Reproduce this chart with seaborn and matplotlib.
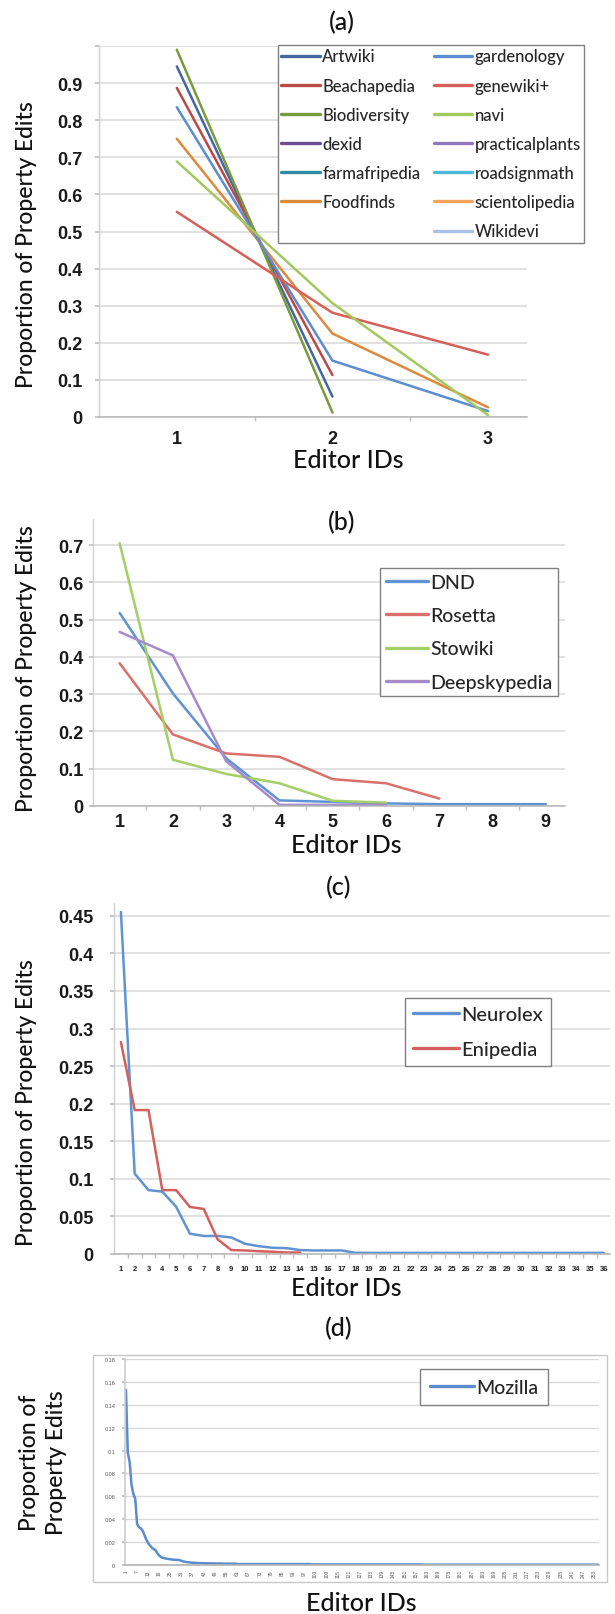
import numpy as np
import pandas as pd
import matplotlib
matplotlib.use("Agg")
import matplotlib.pyplot as plt
from matplotlib.lines import Line2D
from matplotlib.patches import Rectangle
import seaborn as sns

sns.set_theme(style="white")
plt.rcParams["font.family"] = ["Lato", "DejaVu Sans"]

W, H = 615, 1615
TICK_FONT = ["Liberation Sans", "DejaVu Sans"]
GRID = "#D9D9D9"

# ---------------- (a) wikis with at most 3 editors ----------------
artwiki = [0.945, 0.055]
beachapedia = [0.887, 0.113]
biodiversity = [0.99, 0.012]
dexid = [1.0]
farmafripedia = [1.0]
foodfinds = [0.75, 0.225, 0.026]
gardenology = [0.835, 0.152, 0.016]
genewiki = [0.553, 0.281, 0.168]
navi = [0.689, 0.307, 0.005]
practicalplants = [1.0]
roadsignmath = [1.0]
scientolipedia = [1.0]
wikidevi = [1.0]

wikis_a = ["Artwiki", "Beachapedia", "Biodiversity", "dexid", "farmafripedia", "Foodfinds",
           "gardenology", "genewiki+", "navi", "practicalplants", "roadsignmath",
           "scientolipedia", "Wikidevi"]
values_a = [artwiki, beachapedia, biodiversity, dexid, farmafripedia, foodfinds,
            gardenology, genewiki, navi, practicalplants, roadsignmath, scientolipedia, wikidevi]
colors_a = ["#44679f", "#b94a48", "#799a3e", "#6a4f92", "#2f8ba4", "#de8a3c",
            "#5b8dd0", "#d65f5b", "#a2c85e", "#9078c0", "#4cb9d8", "#f5a35c", "#a8c1e4"]

# ---------------- (b) wikis with up to 9 editors ----------------
wikis_b = ["DND", "Rosetta", "Stowiki", "Deepskypedia"]
dnd = [0.518, 0.302, 0.128, 0.015, 0.011, 0.007, 0.005, 0.005, 0.005]
rosetta = [0.383, 0.192, 0.141, 0.132, 0.072, 0.061, 0.02]
stowiki = [0.705, 0.124, 0.086, 0.061, 0.014, 0.009]
deepskypedia = [0.467, 0.404, 0.12, 0.003, 0.003, 0.003]
values_b = [dnd, rosetta, stowiki, deepskypedia]
colors_b = ["#5f93d2", "#d9706c", "#a3cf66", "#a58bca"]

# ---------------- (c) wikis with up to 36 editors ----------------
wikis_c = ["Neurolex", "Enipedia"]
neurolex = [0.455, 0.107, 0.085, 0.083, 0.063, 0.027, 0.024, 0.024, 0.022, 0.0136,
            0.0104, 0.0083, 0.0078, 0.0052, 0.0047, 0.0047, 0.0047, 0.0016, 0.0015, 0.0015,
            0.0015, 0.0015, 0.0015, 0.0015, 0.0015, 0.0015, 0.0015, 0.0015, 0.0015, 0.0015,
            0.0015, 0.0015, 0.0015, 0.0015, 0.0015, 0.0015]
enipedia = [0.282, 0.1915, 0.1915, 0.085, 0.085, 0.0626, 0.060, 0.0198, 0.0052, 0.0047,
            0.0037, 0.003, 0.002, 0.002]
values_c = [neurolex, enipedia]
colors_c = ["#5f93d2", "#d4605e"]

# ---------------- (d) Mozilla, 255 editors ----------------
mozilla = [
    0.153, 0.098, 0.090, 0.070, 0.062, 0.058, 0.036, 0.033, 0.032, 0.030,
    0.026, 0.022, 0.019, 0.017, 0.015, 0.0138, 0.0128, 0.010, 0.0082, 0.0068,
    0.0062, 0.0058, 0.0055, 0.0052, 0.0050, 0.0048, 0.0046, 0.0045, 0.0044, 0.0042,
    0.0036, 0.0030, 0.0027, 0.0025, 0.0023, 0.0021, 0.0020, 0.0019, 0.0018, 0.0017,
    0.0016, 0.0016, 0.0015, 0.0015, 0.0015, 0.0014, 0.0014, 0.0014, 0.0013, 0.0013,
    0.0013, 0.0013, 0.0012, 0.0012, 0.0012, 0.0012, 0.0011, 0.0011, 0.0011, 0.0011,
    0.0008, 0.0008, 0.0008, 0.0008, 0.0008, 0.0008, 0.0008, 0.0008, 0.0008, 0.0008,
    0.0008, 0.0008, 0.0008, 0.0008, 0.0008, 0.0008, 0.0008, 0.0008, 0.0008, 0.0008,
    0.0008, 0.0008, 0.0008, 0.0008, 0.0008, 0.0008, 0.0008, 0.0008, 0.0008, 0.0008,
    0.0008, 0.0008, 0.0008, 0.0008, 0.0008, 0.0008, 0.0008, 0.0008, 0.0008, 0.0008,
    0.0005, 0.0005, 0.0005, 0.0005, 0.0005, 0.0005, 0.0005, 0.0005, 0.0005, 0.0005,
    0.0005, 0.0005, 0.0005, 0.0005, 0.0005, 0.0005, 0.0005, 0.0005, 0.0005, 0.0005,
    0.0005, 0.0005, 0.0005, 0.0005, 0.0005, 0.0005, 0.0005, 0.0005, 0.0005, 0.0005,
    0.0005, 0.0005, 0.0005, 0.0005, 0.0005, 0.0005, 0.0005, 0.0005, 0.0005, 0.0005,
    0.0005, 0.0005, 0.0005, 0.0005, 0.0005, 0.0005, 0.0005, 0.0005, 0.0005, 0.0005,
    0.0005, 0.0005, 0.0005, 0.0005, 0.0005, 0.0005, 0.0005, 0.0005, 0.0005, 0.0005,
    0.0003, 0.0003, 0.0003, 0.0003, 0.0003, 0.0003, 0.0003, 0.0003, 0.0003, 0.0003,
    0.0003, 0.0003, 0.0003, 0.0003, 0.0003, 0.0003, 0.0003, 0.0003, 0.0003, 0.0003,
    0.0003, 0.0003, 0.0003, 0.0003, 0.0003, 0.0003, 0.0003, 0.0003, 0.0003, 0.0003,
    0.0003, 0.0003, 0.0003, 0.0003, 0.0003, 0.0003, 0.0003, 0.0003, 0.0003, 0.0003,
    0.0003, 0.0003, 0.0003, 0.0003, 0.0003, 0.0003, 0.0003, 0.0003, 0.0003, 0.0003,
    0.0003, 0.0003, 0.0003, 0.0003, 0.0003, 0.0003, 0.0003, 0.0003, 0.0003, 0.0003,
    0.0003, 0.0003, 0.0003, 0.0003, 0.0003, 0.0003, 0.0003, 0.0003, 0.0003, 0.0003,
    0.0003, 0.0003, 0.0003, 0.0003, 0.0003, 0.0003, 0.0003, 0.0003, 0.0003, 0.0003,
    0.0003, 0.0003, 0.0003, 0.0003, 0.0003, 0.0003, 0.0003, 0.0003, 0.0003, 0.0003,
    0.0003, 0.0003, 0.0003, 0.0003, 0.0003,
]
mozilla_color = "#5b8ccd"


def to_long(names, values):
    rows = []
    for name, vals in zip(names, values):
        for i, v in enumerate(vals):
            rows.append({"wiki": name, "editor": i + 1, "prop": v})
    return pd.DataFrame(rows)


fig = plt.figure(figsize=(W / 100, H / 100), dpi=100)


def add_ax(l, t, r, b):
    return fig.add_axes([l / W, 1 - b / H, (r - l) / W, (b - t) / H])


def ftext(x, y, s, **kw):
    fig.text(x / W, 1 - y / H, s, ha="center", va="center", color="#111111",
             fontweight="medium", **kw)


def excel_axes(ax, ncat, xmax, ymax, yticks, ylabels, ypad, xpad, xfs=13, yfs=13):
    ax.set_xlim(0.5, xmax)
    ax.set_ylim(0, ymax)
    ax.set_yticks(yticks)
    ax.set_yticklabels(ylabels)
    ax.set_xticks(range(1, ncat + 1))
    ax.set_xticklabels([str(i) for i in range(1, ncat + 1)])
    ax.set_xticks(np.arange(1.5, ncat + 0.5, 1), minor=True)
    ax.yaxis.grid(True, color=GRID, lw=1.1)
    ax.xaxis.grid(False)
    ax.set_xlabel("")
    ax.set_ylabel("")
    for s in ["top", "right"]:
        ax.spines[s].set_visible(False)
    ax.spines["left"].set_color("#CFCFCF")
    ax.spines["bottom"].set_color("#B5B5B5")
    ax.spines["left"].set_linewidth(1.0)
    ax.spines["bottom"].set_linewidth(1.1)
    ax.tick_params(axis="y", which="major", length=3, color="#BFBFBF", pad=ypad,
                   labelsize=yfs, labelcolor="#1a1a1a", left=True)
    ax.tick_params(axis="x", which="major", length=0, pad=xpad, labelsize=xfs,
                   labelcolor="#1a1a1a", bottom=True)
    ax.tick_params(axis="x", which="minor", length=3, color="#BFBFBF", bottom=True)
    for lbl in ax.get_xticklabels() + ax.get_yticklabels():
        lbl.set_fontfamily(TICK_FONT)
        lbl.set_fontweight("bold")


def excel_legend(ax, names, colors, x, y, fs, **kw):
    handles = [Line2D([], [], color=colors[n], lw=2.4) if n else Line2D([], [], color="none")
               for n in names]
    leg = ax.legend(handles, [n or "" for n in names], loc="upper left",
                    bbox_to_anchor=(x / W, 1 - y / H), bbox_transform=fig.transFigure,
                    borderaxespad=0, frameon=True, fancybox=False, edgecolor="#808080",
                    prop={"size": fs, "weight": "medium"}, framealpha=1, **kw)
    leg.get_frame().set_linewidth(1.0)
    for t in leg.get_texts():
        t.set_color("#262626")
    return leg


# ---------------- panel (a) ----------------
ax_a = add_ax(99, 47, 527, 418)
pal_a = dict(zip(wikis_a, colors_a))
sns.lineplot(data=to_long(wikis_a, values_a), x="editor", y="prop", hue="wiki",
             hue_order=wikis_a, palette=pal_a, estimator=None, sort=False,
             linewidth=1.8, legend=False, ax=ax_a)
yt_a = np.round(np.arange(0, 1.01, 0.1), 1)
excel_axes(ax_a, 3, 3.25, 1.0, yt_a,
           ["0"] + [f"{v:.1f}" for v in yt_a[1:-1]] + [""], ypad=9, xpad=9)
order_a = ["Artwiki", "Beachapedia", "Biodiversity", "dexid", "farmafripedia", "Foodfinds", None,
           "gardenology", "genewiki+", "navi", "practicalplants", "roadsignmath",
           "scientolipedia", "Wikidevi"]
excel_legend(ax_a, order_a, pal_a, 278, 46, 12, ncol=2, borderpad=0.2, labelspacing=0.79,
             handlelength=2.3, handletextpad=0.15, columnspacing=0.8)
ftext(342, 23, "(a)", fontsize=18)
ftext(348, 461, "Editor IDs", fontsize=18)
ftext(27, 245, "Proportion of Property Edits", fontsize=16.5, rotation=90)

# ---------------- panel (b) ----------------
ax_b = add_ax(93, 520, 565, 807)
pal_b = dict(zip(wikis_b, colors_b))
sns.lineplot(data=to_long(wikis_b, values_b), x="editor", y="prop", hue="wiki",
             hue_order=wikis_b, palette=pal_b, estimator=None, sort=False,
             linewidth=1.8, legend=False, ax=ax_b)
yt_b = np.round(np.arange(0, 0.71, 0.1), 1)
excel_axes(ax_b, 9, 9.36, 0.77, yt_b, ["0"] + [f"{v:.1f}" for v in yt_b[1:]], ypad=4, xpad=5)
excel_legend(ax_b, wikis_b, pal_b, 380, 569, 14, borderpad=0.29, labelspacing=0.84,
             handlelength=2.2, handletextpad=0.1)
ftext(342, 523, "(b)", fontsize=18)
ftext(346, 846, "Editor IDs", fontsize=18)
ftext(27, 669, "Proportion of Property Edits", fontsize=16.5, rotation=90)

# ---------------- panel (c) ----------------
ax_c = add_ax(114, 904, 610, 1255)
pal_c = dict(zip(wikis_c, colors_c))
sns.lineplot(data=to_long(wikis_c, values_c), x="editor", y="prop", hue="wiki",
             hue_order=wikis_c, palette=pal_c, estimator=None, sort=False,
             linewidth=1.8, legend=False, ax=ax_c)
yt_c = np.round(np.arange(0, 0.451, 0.05), 2)
excel_axes(ax_c, 36, 36.45, 0.467, yt_c, ["0"] + [f"{v:g}" for v in yt_c[1:]],
           ypad=12, xpad=8, xfs=5.5)
excel_legend(ax_c, wikis_c, pal_c, 405, 999, 14.5, borderpad=0.39, labelspacing=0.89,
             handlelength=2.3, handletextpad=0.1)
ftext(339, 888, "(c)", fontsize=18)
ftext(346, 1289, "Editor IDs", fontsize=18)
ftext(27, 1103, "Proportion of Property Edits", fontsize=16.5, rotation=90)

# ---------------- panel (d) ----------------
fig.add_artist(Rectangle((93 / W, 1 - 1583 / H), (607 - 93) / W, (1583 - 1356) / H,
                         transform=fig.transFigure, fill=False, ec="#C8C8C8", lw=1.0))
ax_d = add_ax(125, 1360, 599, 1566)
df_d = pd.DataFrame({"editor": np.arange(1, len(mozilla) + 1), "prop": mozilla})
sns.lineplot(data=df_d, x="editor", y="prop", color=mozilla_color, estimator=None,
             linewidth=1.8, ax=ax_d)
ax_d.set_xlim(0.5, len(mozilla) + 0.5)
ax_d.set_ylim(0, 0.18)
yt_d = np.round(np.arange(0, 0.181, 0.02), 2)
ax_d.set_yticks(yt_d)
ax_d.set_yticklabels(["0"] + [f"{v:g}" for v in yt_d[1:]])
xt_d = list(range(1, len(mozilla) + 1, 6))
ax_d.set_xticks(xt_d)
ax_d.set_xticklabels([str(v) for v in xt_d], rotation=90)
ax_d.yaxis.grid(True, color=GRID, lw=1.0)
ax_d.xaxis.grid(False)
ax_d.set_xlabel("")
ax_d.set_ylabel("")
for s in ["top", "right"]:
    ax_d.spines[s].set_visible(False)
ax_d.spines["left"].set_color("#CFCFCF")
ax_d.spines["bottom"].set_color("#B5B5B5")
ax_d.tick_params(axis="y", length=2, color="#BFBFBF", pad=5, labelsize=4, labelcolor="#555555", left=True)
ax_d.tick_params(axis="x", length=0, pad=3, labelsize=3.5, labelcolor="#555555")
for lbl in ax_d.get_xticklabels() + ax_d.get_yticklabels():
    lbl.set_fontfamily(TICK_FONT)
excel_legend(ax_d, ["Mozilla"], {"Mozilla": mozilla_color}, 420, 1370, 14, borderpad=0.5,
             handlelength=2.3, handletextpad=0.1)
ftext(339, 1329, "(d)", fontsize=18)
ftext(361, 1604, "Editor IDs", fontsize=18)
ftext(43, 1463, "Proportion of\nProperty Edits", fontsize=16.5, rotation=90, linespacing=1.4)

fig.savefig("out.png", dpi=100)
